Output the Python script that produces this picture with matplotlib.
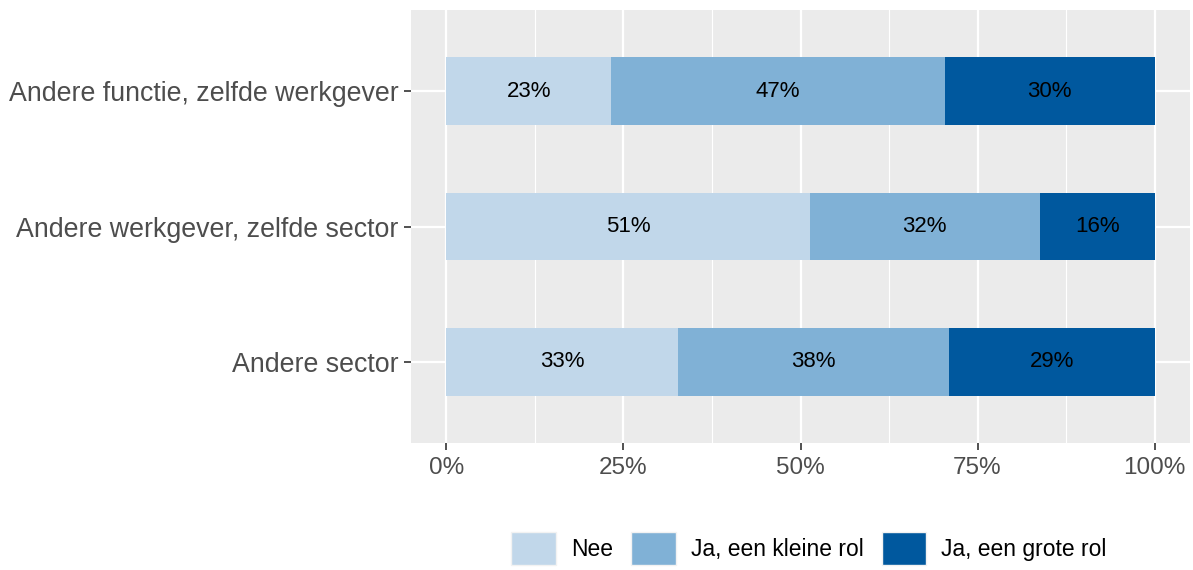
import numpy as np
import matplotlib.pyplot as plt
from matplotlib.patches import Patch
from matplotlib.ticker import MultipleLocator, FuncFormatter

plt.rcParams['font.family'] = ['Liberation Sans', 'DejaVu Sans']

categories = ['Andere sector', 'Andere werkgever, zelfde sector', 'Andere functie, zelfde werkgever']
series = ['Nee', 'Ja, een kleine rol', 'Ja, een grote rol']
nee = [0.327, 0.513, 0.233]
klein = [0.382, 0.325, 0.471]
groot = [0.291, 0.162, 0.296]
colors = ['#c1d7ea', '#80b1d6', '#00589e']

fig = plt.figure(figsize=(11.93, 5.70), dpi=100)
ax = fig.add_axes([0.3445, 0.2228, 0.6530, 0.7596])
ax.set_facecolor('#ebebeb')

y = np.arange(1, len(categories) + 1)
left = np.zeros(len(categories))
for vals, col in zip([nee, klein, groot], colors):
    vals = np.array(vals)
    ax.barh(y, vals, left=left, height=0.5, color=col, zorder=3)
    for yi, l, v in zip(y, left, vals):
        ax.text(l + v / 2, yi, f'{round(v * 100):.0f}%', ha='center', va='center',
                fontsize=16, color='black', zorder=4)
    left = left + vals

ax.set_xlim(-0.05, 1.05)
ax.set_ylim(0.4, 3.6)
ax.xaxis.set_major_locator(MultipleLocator(0.25))
ax.xaxis.set_minor_locator(MultipleLocator(0.125))
ax.xaxis.set_major_formatter(FuncFormatter(lambda v, p: f'{v * 100:.0f}%'))
ax.set_yticks(y)
ax.set_yticklabels(categories)
ax.grid(which='major', color='white', linewidth=1.6, zorder=0)
ax.grid(which='minor', axis='x', color='white', linewidth=0.8, zorder=0)
ax.set_axisbelow(True)
for s in ax.spines.values():
    s.set_visible(False)
ax.tick_params(axis='both', which='major', length=5, width=1.2, color='#333333',
               labelcolor='#4d4d4d', pad=4)
ax.tick_params(axis='y', labelsize=19.3)
ax.tick_params(axis='x', labelsize=17.5, pad=5)
ax.tick_params(axis='x', which='minor', length=0)

handles = [Patch(facecolor=c, edgecolor='#f2f2f2', linewidth=1) for c in colors]
fig.legend(handles, series, loc='center', bbox_to_anchor=(0.678, 0.038), ncol=3,
           frameon=False, fontsize=16.5, handlelength=1.95, handleheight=1.8,
           handletextpad=0.65, columnspacing=0.8)

fig.savefig('out.png', dpi=100)
